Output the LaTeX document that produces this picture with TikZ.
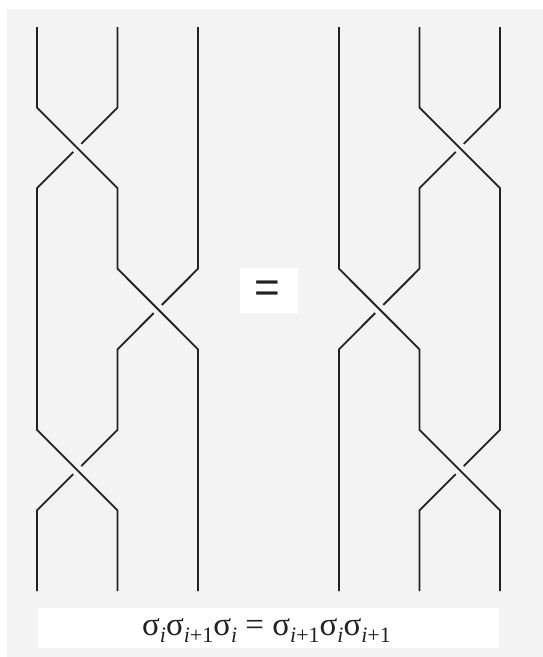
\documentclass[tikz,border=0pt]{standalone}
\usepackage{fontspec}
\setmainfont{Liberation Serif}
\newfontfamily\eqfont{Liberation Sans}
\usetikzlibrary{calc}
\definecolor{bgcol}{HTML}{F3F3F3}
\definecolor{strandcol}{HTML}{222222}
\newcommand\sbx[1]{\raisebox{-7pt}{\fontsize{22}{22}\selectfont #1}}
\begin{document}
\begin{tikzpicture}[x=1pt,y=-1pt,
  strand/.style={draw=strandcol,line width=1.8pt,line join=miter},
  whitebox/.style={fill=white,inner sep=0pt}]
\useasboundingbox (0,0) rectangle (543,657);
\fill[bgcol] (7,9) rectangle (543,657);
\foreach \i/\x in {1/37,2/117.5,3/198,4/339,5/419.5,6/500}{
  \foreach \j in {0,...,7}{
    \coordinate (P\i-\j) at (\x,{27+\j*80.571});
  }
}
% left braid
\draw[strand] (P1-0) -- (P1-1) -- (P2-2) -- (P2-3) -- (P3-4) -- (P3-7);
\draw[strand] (P2-0) -- (P2-1) -- ($(P2-1)!0.45!(P1-2)$) ($(P2-1)!0.55!(P1-2)$) -- (P1-2) -- (P1-5) -- (P2-6) -- (P2-7);
\draw[strand] (P3-0) -- (P3-3) -- ($(P3-3)!0.45!(P2-4)$) ($(P3-3)!0.55!(P2-4)$) -- (P2-4) -- (P2-5) -- ($(P2-5)!0.45!(P1-6)$) ($(P2-5)!0.55!(P1-6)$) -- (P1-6) -- (P1-7);
% right braid
\draw[strand] (P4-0) -- (P4-3) -- (P5-4) -- (P5-5) -- (P6-6) -- (P6-7);
\draw[strand] (P5-0) -- (P5-1) -- (P6-2) -- (P6-5) -- ($(P6-5)!0.45!(P5-6)$) ($(P6-5)!0.55!(P5-6)$) -- (P5-6) -- (P5-7);
\draw[strand] (P6-0) -- (P6-1) -- ($(P6-1)!0.45!(P5-2)$) ($(P6-1)!0.55!(P5-2)$) -- (P5-2) -- (P5-3) -- ($(P5-3)!0.45!(P4-4)$) ($(P5-3)!0.55!(P4-4)$) -- (P4-4) -- (P4-7);
% equals box
\node[whitebox,minimum width=58pt,minimum height=45pt] (eqbox) at (269,290.5) {};
\node[font=\eqfont\fontsize{44}{44}\selectfont,text=strandcol,inner sep=0pt] (eq) at (267,292) {=};
% label
\node[whitebox,minimum width=461pt,minimum height=40pt] (labelbox) at (268.5,628) {};
\node[anchor=base,inner sep=0pt,font=\fontsize{33}{33}\selectfont,text=strandcol] (label) at (266.5,635)
  {σ\sbx{\textit{i}}σ\sbx{\textit{i}+1}σ\sbx{\textit{i}} = σ\sbx{\textit{i}+1}σ\sbx{\textit{i}}σ\sbx{\textit{i}+1}};
\end{tikzpicture}
\end{document}
